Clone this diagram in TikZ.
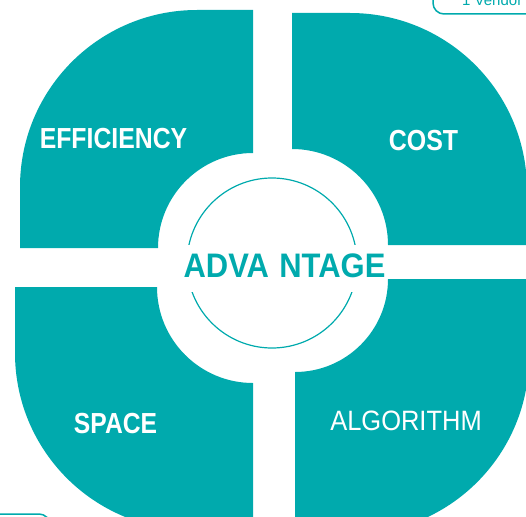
\documentclass[tikz,border=0pt]{standalone}
\usepackage{graphicx}
\usepackage{fontspec}
\setmainfont{Liberation Sans}
\definecolor{teal}{HTML}{00AAAD}
\newcommand{\narrow}[2]{\scalebox{#1}[1]{#2}}
\tikzset{
  petal/.style={fill=teal, draw=none},
  petallabel/.style={text=white, anchor=base, inner sep=0pt, font=\fontsize{29}{29}\selectfont},
  hubring/.style={draw=teal, line width=1.2pt},
  hubtext/.style={text=teal, fill=white, anchor=base, inner xsep=2pt, inner ysep=0pt,
    text height=32pt, text depth=15pt, font=\fontsize{34}{34}\selectfont\bfseries},
  tagbox/.style={draw=teal, line width=1.5pt, rounded corners=11pt}
}
\begin{document}
\begin{tikzpicture}[x=1pt,y=-1pt]
\useasboundingbox (0,0) rectangle (526,516);
\clip (0,0) rectangle (526,516);

% four quarter panels around the hub
\path[petal] (20,248) -- (158,248) arc[start angle=180,end angle=270,radius=95]
  -- (253,10) -- (197,10) arc[start angle=270,end angle=180,radius=177] -- cycle;
\path[petal] (292,13) -- (350,13) arc[start angle=270,end angle=360,radius=177]
  -- (527,245) -- (388,245) arc[start angle=0,end angle=-90,radius=96] -- cycle;
\path[petal] (15,287) -- (157,287) arc[start angle=180,end angle=90,radius=96]
  -- (253,530) -- (192,530) arc[start angle=90,end angle=180,radius=177] -- cycle;
\path[petal] (295,372) arc[start angle=90,end angle=0,radius=93]
  -- (529,279) -- (529,357) arc[start angle=0,end angle=90,radius=177]
  -- (295,534) -- cycle;

% hub
\node[hubring, circle, minimum size=170pt, inner sep=0pt] (ring) at (272,263) {};
\node[hubtext] (hub) at (284.5,277) {\narrow{0.91}{ADVA\hspace{2pt} NTAGE}};

% panel labels
\node[petallabel, font=\fontsize{29}{29}\selectfont\bfseries] (eff) at (113.5,148) {\narrow{0.855}{EFFICIENCY}};
\node[petallabel, font=\fontsize{29}{29}\selectfont\bfseries] (cost) at (423.5,150) {\narrow{0.86}{COST}};
\node[petallabel, font=\fontsize{29}{29}\selectfont\bfseries] (space) at (115.5,433) {\narrow{0.85}{SPACE}};
\node[petallabel, font=\fontsize{28}{28}\selectfont] (algo) at (406,430) {\narrow{0.91}{ALGORITHM}};

% tags at the page edges
\draw[tagbox] (433,-40) rectangle (560,14);
\node[text=teal, anchor=base west, inner sep=0pt, font=\fontsize{15}{15}\selectfont] (vendor) at (462,6) {1 Vendor};
\draw[tagbox] (-60,514) rectangle (50,570);
\end{tikzpicture}
\end{document}
